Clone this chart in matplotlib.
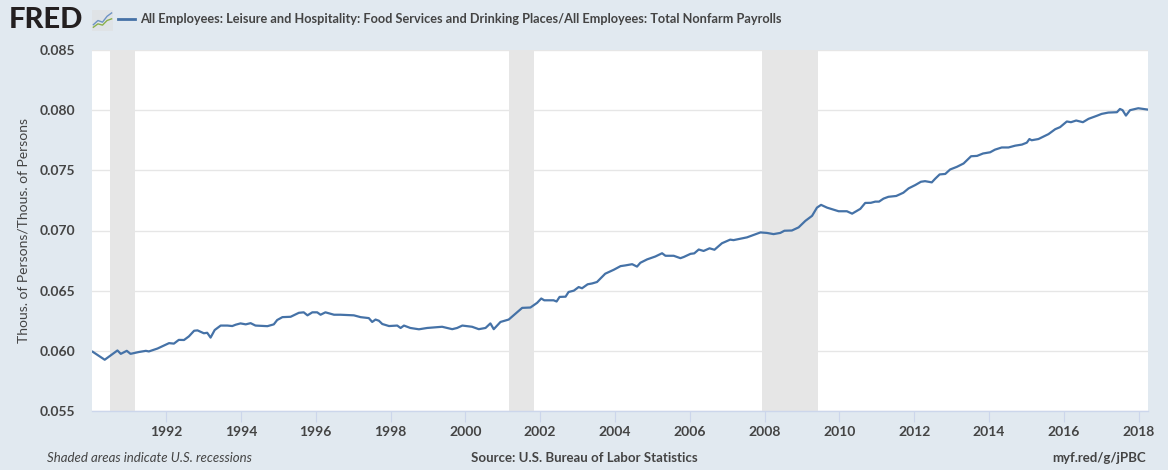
import numpy as np
import matplotlib
matplotlib.use("Agg")
import matplotlib.pyplot as plt

plt.rcParams['font.family'] = ['Lato', 'DejaVu Sans']

# Ratio (decimal year, value)
years = [1990.04, 1990.36, 1990.70, 1990.79, 1990.95, 1991.05, 1991.27, 1991.46,
         1991.54, 1991.77, 1992.08, 1992.21, 1992.34, 1992.48, 1992.61, 1992.75,
         1992.84, 1993.01, 1993.10, 1993.19, 1993.30, 1993.46, 1993.64, 1993.77,
         1993.86, 1993.99, 1994.13, 1994.26, 1994.39, 1994.71, 1994.88, 1994.97,
         1995.11, 1995.33, 1995.55, 1995.68, 1995.78, 1995.91, 1996.04, 1996.13,
         1996.26, 1996.49, 1996.66, 1997.02, 1997.20, 1997.42, 1997.51, 1997.60,
         1997.69, 1997.78, 1997.96, 1998.18, 1998.27, 1998.36, 1998.53, 1998.76,
         1998.98, 1999.38, 1999.65, 1999.78, 1999.92, 2000.18, 2000.36, 2000.54,
         2000.67, 2000.76, 2000.94, 2001.16, 2001.52, 2001.74, 2001.92, 2002.03,
         2002.11, 2002.36, 2002.44, 2002.52, 2002.68, 2002.76, 2002.90, 2003.03,
         2003.12, 2003.27, 2003.39, 2003.52, 2003.74, 2003.97, 2004.15, 2004.28,
         2004.46, 2004.59, 2004.68, 2004.86, 2005.08, 2005.26, 2005.35, 2005.57,
         2005.75, 2005.84, 2006.02, 2006.12, 2006.24, 2006.37, 2006.53, 2006.66,
         2006.86, 2007.08, 2007.17, 2007.53, 2007.89, 2008.06, 2008.24, 2008.42,
         2008.53, 2008.73, 2008.91, 2009.09, 2009.27, 2009.40, 2009.51, 2009.67,
         2009.98, 2010.20, 2010.34, 2010.56, 2010.69, 2010.84, 2010.96, 2011.06,
         2011.18, 2011.31, 2011.52, 2011.71, 2011.85, 2012.03, 2012.18, 2012.29,
         2012.47, 2012.56, 2012.68, 2012.83, 2012.96, 2013.14, 2013.32, 2013.52,
         2013.68, 2013.84, 2014.03, 2014.16, 2014.34, 2014.52, 2014.70, 2014.88,
         2015.01, 2015.08, 2015.14, 2015.32, 2015.50, 2015.59, 2015.77, 2015.90,
         2016.08, 2016.19, 2016.33, 2016.51, 2016.66, 2016.88, 2017.01, 2017.19,
         2017.42, 2017.50, 2017.57, 2017.66, 2017.77, 2017.99, 2018.24]
ratio = [0.05992, 0.05926, 0.06003, 0.05975, 0.06000, 0.05975, 0.05990, 0.06000,
         0.05995, 0.06019, 0.06064, 0.06060, 0.06091, 0.06090, 0.06120, 0.06167,
         0.06170, 0.06146, 0.06150, 0.06110, 0.06173, 0.06210, 0.06210, 0.06206,
         0.06217, 0.06228, 0.06220, 0.06230, 0.06210, 0.06205, 0.06220, 0.06256,
         0.06280, 0.06283, 0.06316, 0.06320, 0.06295, 0.06320, 0.06320, 0.06300,
         0.06320, 0.06300, 0.06300, 0.06295, 0.06280, 0.06272, 0.06240, 0.06260,
         0.06250, 0.06223, 0.06206, 0.06210, 0.06190, 0.06210, 0.06190, 0.06179,
         0.06190, 0.06200, 0.06180, 0.06190, 0.06210, 0.06200, 0.06180, 0.06190,
         0.06228, 0.06180, 0.06240, 0.06260, 0.06357, 0.06360, 0.06399, 0.06435,
         0.06420, 0.06420, 0.06410, 0.06448, 0.06450, 0.06489, 0.06500, 0.06530,
         0.06520, 0.06553, 0.06560, 0.06572, 0.06641, 0.06674, 0.06704, 0.06710,
         0.06720, 0.06700, 0.06732, 0.06760, 0.06784, 0.06811, 0.06790, 0.06790,
         0.06770, 0.06780, 0.06806, 0.06810, 0.06842, 0.06830, 0.06852, 0.06840,
         0.06894, 0.06924, 0.06920, 0.06943, 0.06984, 0.06980, 0.06970, 0.06980,
         0.06998, 0.07000, 0.07026, 0.07080, 0.07122, 0.07190, 0.07213, 0.07190,
         0.07160, 0.07160, 0.07140, 0.07180, 0.07229, 0.07230, 0.07240, 0.07240,
         0.07265, 0.07280, 0.07287, 0.07314, 0.07350, 0.07378, 0.07405, 0.07410,
         0.07400, 0.07430, 0.07466, 0.07470, 0.07507, 0.07529, 0.07557, 0.07617,
         0.07620, 0.07640, 0.07650, 0.07672, 0.07690, 0.07690, 0.07705, 0.07714,
         0.07730, 0.07760, 0.07750, 0.07760, 0.07788, 0.07801, 0.07842, 0.07859,
         0.07906, 0.07900, 0.07914, 0.07900, 0.07928, 0.07953, 0.07969, 0.07980,
         0.07983, 0.08010, 0.08000, 0.07955, 0.08000, 0.08016, 0.08005]

# Recessions (start, end) as decimal years
rec_start = [1990.50, 2001.17, 2007.92]
rec_end = [1991.17, 2001.83, 2009.42]

tick_years = list(range(1992, 2019, 2))
y_ticks = [0.055, 0.060, 0.065, 0.070, 0.075, 0.080, 0.085]

bg = '#e1e9f0'
line_col = '#4572a7'
text_col = '#444444'
W, H = 1168, 470

fig = plt.figure(figsize=(W/100, H/100), dpi=100, facecolor=bg)
ax = fig.add_axes([92/W, 1 - 411/H, (1148-92)/W, (411-50)/H])
ax.set_facecolor('white')

for s, e in zip(rec_start, rec_end):
    ax.axvspan(s, e, color='#e6e6e6', lw=0, zorder=1)

ax.plot(years, ratio, color=line_col, lw=1.6, zorder=3)

ax.set_xlim(1990.02, 2018.25)
ax.set_ylim(0.055, 0.085)
ax.set_yticks(y_ticks)
ax.set_yticklabels([f"{v:.3f}" for v in y_ticks])
ax.set_xticks(tick_years)
ax.set_xticklabels([str(y) for y in tick_years])
ax.grid(axis='y', color='#e6e6e6', lw=1, zorder=0)
ax.set_axisbelow(True)

for side in ['top', 'right', 'left']:
    ax.spines[side].set_visible(False)
ax.spines['bottom'].set_color('#ccd6eb')
ax.spines['bottom'].set_linewidth(1)
ax.tick_params(axis='x', length=8, color='#ccd6eb', labelsize=10, labelcolor=text_col, pad=3)
ax.tick_params(axis='y', length=0, labelsize=10, labelcolor=text_col, pad=12)
for lab in ax.get_xticklabels() + ax.get_yticklabels():
    lab.set_fontweight('bold')

ax.set_ylabel("Thous. of Persons/Thous. of Persons", fontsize=10, color=text_col, labelpad=7)

# Header: logo, small chart icon, legend entry
fig.text(9/W, 1 - 20/H, "FRED", fontsize=21, fontweight='black', color='#231f20',
         va='center', ha='left')
icon = fig.add_axes([92/W, 1 - 31/H, 21/W, 21/H])
icon.set_facecolor('#dfe3e6')
icon.set_xticks([])
icon.set_yticks([])
for sp in icon.spines.values():
    sp.set_visible(False)
icon.plot([0, 1, 2, 3, 4], [1, 2, 1.6, 3, 3.8], color='#6e93c4', lw=1)
icon.plot([0, 1, 2, 3, 4], [0.4, 1.2, 0.9, 2.0, 2.4], color='#8ab04c', lw=1)
icon.set_xlim(-0.3, 4.3)
icon.set_ylim(-0.5, 4.5)

fig.add_artist(plt.Line2D([118/W, 135/W], [1 - 19/H, 1 - 19/H], color=line_col, lw=2))
fig.text(140/W, 1 - 19/H,
         "All Employees: Leisure and Hospitality: Food Services and Drinking Places/All Employees: Total Nonfarm Payrolls",
         fontsize=9.2, fontweight='bold', color=text_col, va='center', ha='left')

# Footer
fig.text(47/W, 1 - 458/H, "Shaded areas indicate U.S. recessions", fontsize=9.5,
         style='italic', color=text_col, va='center', ha='left')
fig.text(584/W, 1 - 458/H, "Source: U.S. Bureau of Labor Statistics", fontsize=9.5,
         fontweight='bold', color=text_col, va='center', ha='center')
fig.text(1146/W, 1 - 458/H, "myf.red/g/jPBC", fontsize=9.5, fontweight='bold',
         color=text_col, va='center', ha='right')

fig.savefig("out.png", dpi=100, facecolor=bg)
